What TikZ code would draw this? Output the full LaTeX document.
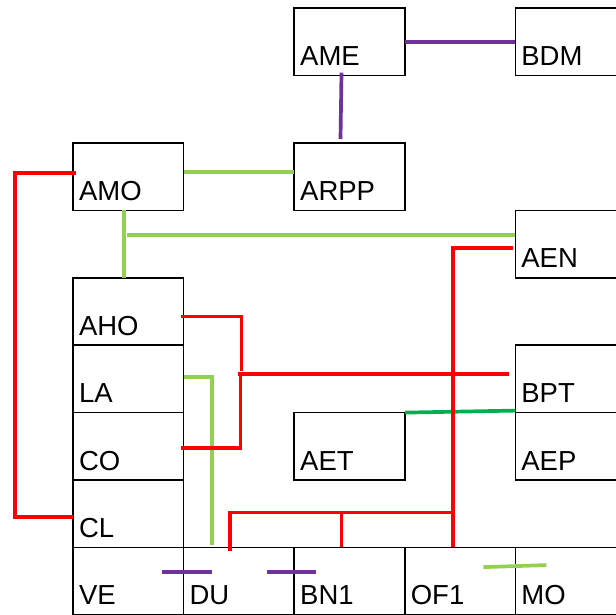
\documentclass[tikz,border=0pt]{standalone}
\usepackage{fontspec}
\setsansfont{Liberation Sans}
\usetikzlibrary{positioning,calc}
\definecolor{LineRed}{RGB}{255,0,0}
\definecolor{LineLime}{RGB}{146,208,80}
\definecolor{LinePurple}{RGB}{112,48,160}
\definecolor{LineGreen}{RGB}{0,176,80}

\begin{document}
\begin{tikzpicture}[
  x=1pt, y=-1pt,
  font=\sffamily\fontsize{27.5}{29}\selectfont,
  cell/.style={draw=black,line width=1.7pt,outer sep=0pt,minimum width=110.6pt,minimum height=67.4pt,text width=98.6pt,inner xsep=6pt,inner ysep=0pt,text height=57.4pt,text depth=10pt,align=left},
  rl/.style={draw=LineRed,line width=3.7pt},
  ll/.style={draw=LineLime,line width=3.7pt},
  pl/.style={draw=LinePurple,line width=3.7pt},
  gl/.style={draw=LineGreen,line width=3.7pt}
]
\useasboundingbox (0,0) rectangle (616,614);
\clip (0,0) rectangle (616,614);
% left column
\node[cell,anchor=north west] (amo) at (73,143) {AMO};
\node[cell,below=67.4pt of amo] (aho) {AHO};
\node[cell,below=0pt of aho] (la) {LA};
\node[cell,below=0pt of la] (co) {CO};
\node[cell,below=0pt of co] (cl) {CL};
% bottom row
\node[cell,below=0pt of cl] (ve) {VE};
\node[cell,right=0pt of ve] (du) {DU};
\node[cell,right=0pt of du] (bn1) {BN1};
\node[cell,right=0pt of bn1] (of1) {OF1};
\node[cell,right=0pt of of1] (mo) {MO};
% upper part
\node[cell,right=110.6pt of amo] (arpp) {ARPP};
\node[cell,above=67.4pt of arpp] (ame) {AME};
\node[cell,right=110.6pt of ame] (bdm) {BDM};
\node[cell,right=110.6pt of co] (aet) {AET};
\node[cell,right=331.8pt of la] (bpt) {BPT};
\node[cell,below=0pt of bpt] (aep) {AEP};
\node[cell,above=67.4pt of bpt] (aen) {AEN};
% purple links
\draw[pl] (ame.east) -- (bdm.west);
\draw[pl] ($(ame.south)+(-8,-3)$) -- ($(arpp.north)+(-9,-4)$);
\draw[pl] ($(ve.east)+(-22,-9)$) -- ++(50,0);
\draw[pl] ($(du.east)+(-27,-9)$) -- ++(49,0);
% light green links
\draw[ll] ($(amo.east)+(0,-5)$) -- ($(arpp.west)+(0,-5)$);
\draw[ll] ($(amo.south)+(-4,0)$) -- ($(aho.north)+(-4,0)$);
\draw[ll] ($(aen.west)+(0,-9)$) -- ++(-388,0);
\draw[ll] ($(la.east)+(0,-2)$) -| ($(du.north)+(-27,-2)$);
\draw[ll] ($(of1.east)+(-32,-14)$) -- ($(of1.east)+(31,-16)$);
% green link
\draw[gl] (aet.north east) -- ($(bpt.south west)+(0,-2)$);
% red links
\draw[rl] ($(amo.west)+(3,-4)$) -- ++(-61,0) |- ($(cl.west)+(0,3)$);
\draw[rl] ($(aho.east)+(-3,5)$) -- ++(61,0) -- ++(0,54);
\draw[rl] ($(co.east)+(-3,2)$) -- ++(60,0) -- ++(0,-74);
\draw[rl] ($(bpt.west)+(-6,-5)$) -- ++(-271,0);
\draw[rl] ($(aen.west)+(-2,4)$) -| ($(of1.north)+(-7,0)$);
\draw[rl] ($(du.north)+(-9,4)$) |- ($(of1.north)+(-5,-35)$);
\draw[rl] ($(bn1.north)+(-8,0)$) -- ++(0,-35);
\end{tikzpicture}
\end{document}
